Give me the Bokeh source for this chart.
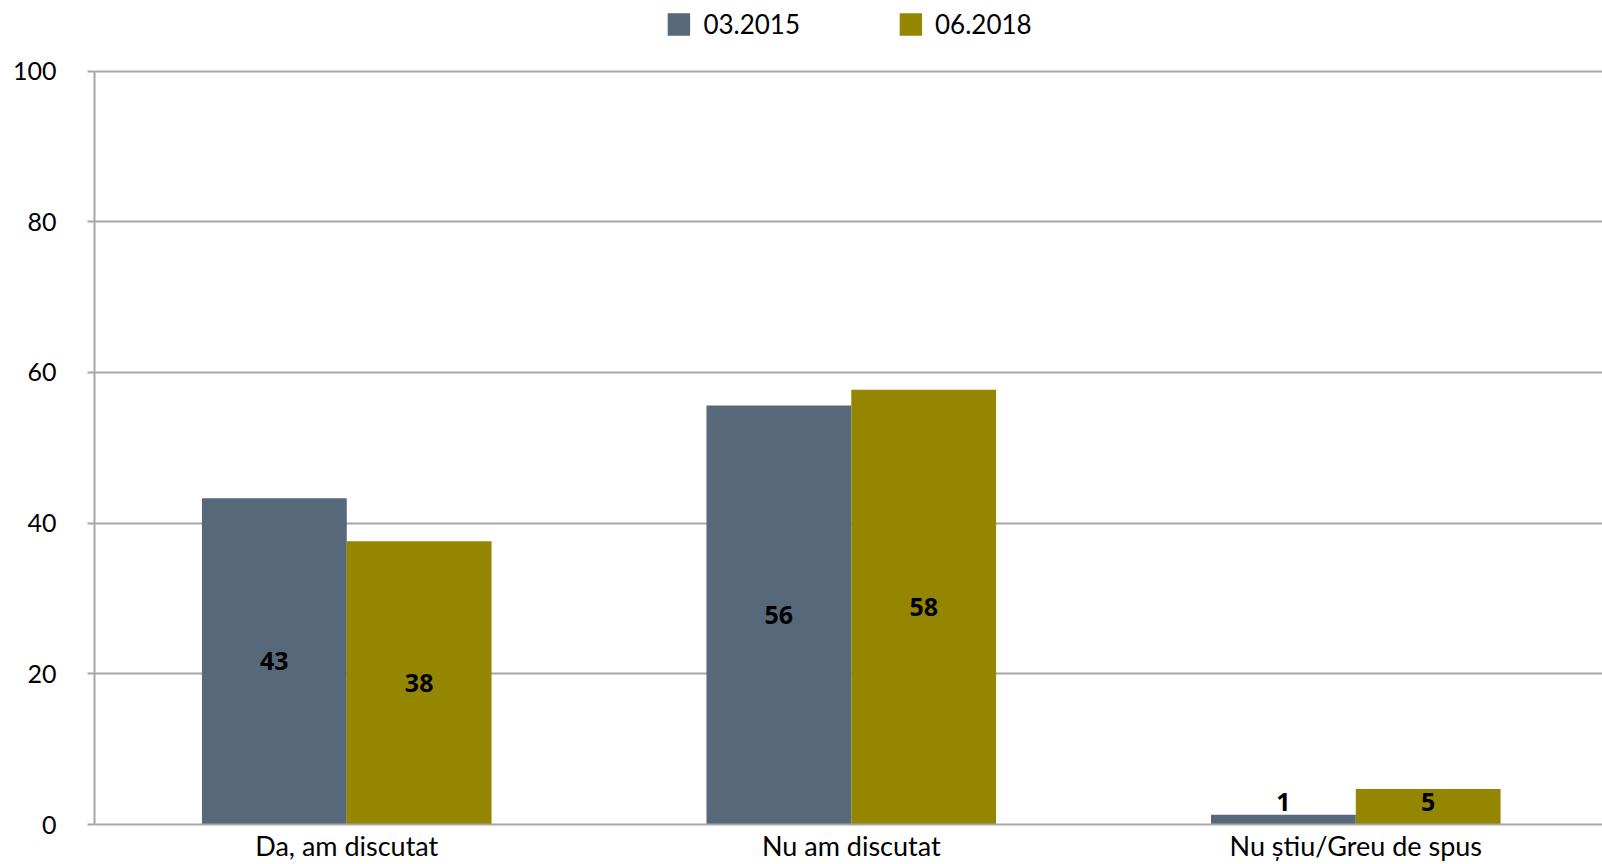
from bokeh.plotting import figure
from bokeh.models import Range1d, FixedTicker, Legend, LegendItem, ColumnDataSource, LabelSet
from bokeh.core.properties import value
from bokeh.transform import dodge
from bokeh.embed import file_html
from bokeh.resources import INLINE

categories = ["Da, am discutat", "Nu am discutat", "Nu știu/Greu de spus"]
series_names = ["03.2015", "06.2018"]
values_2015 = [43.3, 55.6, 1.3]
values_2018 = [37.6, 57.7, 4.7]
colors = ["#56687A", "#948600"]
y_ticks = [0, 20, 40, 60, 80, 100]

FONT = "Lato"
BOLD_FONT = "Open Sans"
GRID = "#A6A6A6"

centers = [i + 0.5 for i in range(len(categories))]
src = ColumnDataSource(dict(
    x=centers,
    v1=values_2015,
    v2=values_2018,
    l1=[str(round(v)) for v in values_2015],
    l2=[str(round(v)) for v in values_2018],
    y1=[max(v / 2, 3.0) for v in values_2015],
    y2=[max(v / 2, 3.0) for v in values_2018],
))

W, H = 1602, 864
p = figure(width=W, height=H, output_backend="svg", toolbar_location=None,
           x_range=Range1d(0, 2.989), y_range=Range1d(0, 109.36),
           min_border_left=94, min_border_right=0, min_border_top=0, min_border_bottom=38)
p.outline_line_color = None
p.background_fill_color = "white"
p.border_fill_color = "white"

bw = 0.287
r1 = p.vbar(x=dodge("x", -bw / 2, range=p.x_range), top="v1", bottom=0, width=bw,
            source=src, fill_color=colors[0], line_color=None)
r2 = p.vbar(x=dodge("x", bw / 2, range=p.x_range), top="v2", bottom=0, width=bw,
            source=src, fill_color=colors[1], line_color=None)

for ys, ls, off in (("y1", "l1", -bw / 2), ("y2", "l2", bw / 2)):
    lab = LabelSet(x=dodge("x", off, range=p.x_range), y=ys, text=ls, source=src,
                   text_align="center", text_baseline="middle",
                   text_font=value(BOLD_FONT), text_font_size="25px", text_font_style="bold",
                   text_color="black")
    p.add_layout(lab)

# grid
p.xgrid.grid_line_color = None
p.ygrid.grid_line_color = GRID
p.ygrid.grid_line_width = 2
p.ygrid.ticker = FixedTicker(ticks=y_ticks)

# y axis
p.yaxis.ticker = FixedTicker(ticks=y_ticks)
p.yaxis.bounds = (0, 100)
p.yaxis.axis_line_color = GRID
p.yaxis.axis_line_width = 2
p.yaxis.major_tick_line_color = GRID
p.yaxis.major_tick_line_width = 2
p.yaxis.major_tick_out = 7
p.yaxis.major_tick_in = 0
p.yaxis.minor_tick_line_color = None
p.yaxis.major_label_standoff = 31
p.yaxis.major_label_text_font = FONT
p.yaxis.major_label_text_font_size = "25px"
p.yaxis.major_label_text_color = "black"

# x axis
p.xaxis.ticker = FixedTicker(ticks=centers)
p.xaxis.major_label_overrides = {c: cat for c, cat in zip(centers, categories)}
p.xaxis.axis_line_color = GRID
p.xaxis.axis_line_width = 2
p.xaxis.major_tick_line_color = None
p.xaxis.minor_tick_line_color = None
p.xaxis.major_tick_out = 0
p.xaxis.major_tick_in = 0
p.xaxis.major_label_standoff = 4
p.xaxis.major_label_text_font = FONT
p.xaxis.major_label_text_font_size = "27px"
p.xaxis.major_label_text_color = "black"

legend = Legend(items=[LegendItem(label=series_names[0], renderers=[r1]),
                       LegendItem(label=series_names[1], renderers=[r2])],
                orientation="horizontal", location="top_center",
                glyph_width=28, glyph_height=28, label_standoff=11, spacing=96,
                label_text_font=FONT, label_text_font_size="26px", label_text_color="black",
                label_height=23, padding=0, margin=8,
                border_line_color=None, background_fill_alpha=0)
p.add_layout(legend, "center")

open("out.html", "w").write(file_html(p, INLINE))
